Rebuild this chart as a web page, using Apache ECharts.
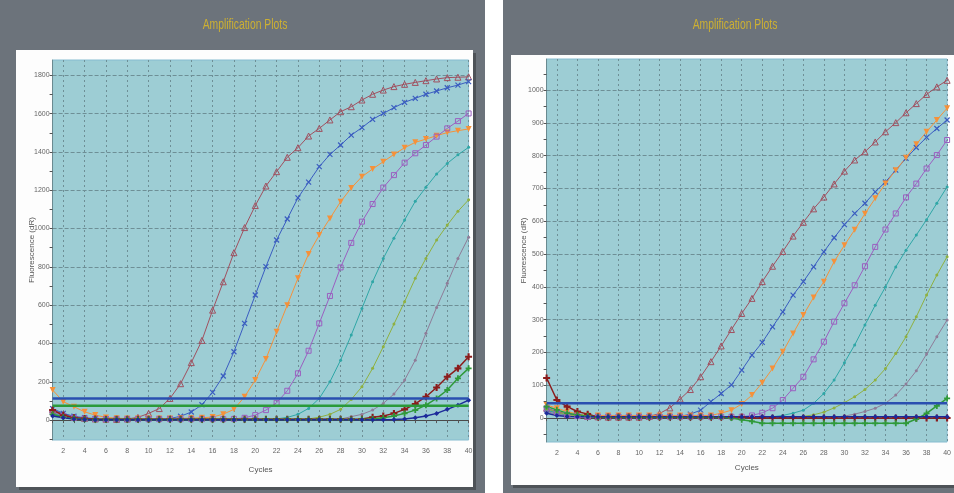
<!DOCTYPE html>
<html><head><meta charset="utf-8">
<script src="https://cdn.jsdelivr.net/npm/echarts@6/dist/echarts.min.js"></script>
<style>html,body{margin:0;padding:0;background:#6c737b}#c{width:954px;height:493px}</style>
</head><body><div id="c"></div>
<script>
// ---- data ----
const cycles = [1,2,3,4,5,6,7,8,9,10,11,12,13,14,15,16,17,18,19,20,21,22,23,24,25,26,27,28,29,30,31,32,33,34,35,36,37,38,39,40];
const xTickLabels = [2,4,6,8,10,12,14,16,18,20,22,24,26,28,30,32,34,36,38,40];
const leftYLabels = [0,200,400,600,800,1000,1200,1400,1600,1800];
const leftYTicks = [-100,0,100,200,300,400,500,600,700,800,900,1000,1100,1200,1300,1400,1500,1600,1700,1800];
const rightYLabels = [0,100,200,300,400,500,600,700,800,900,1000];
const rightYTicks = [-50,0,50,100,150,200,250,300,350,400,450,500,550,600,650,700,750,800,850,900,950,1000,1050];

// left plot
const leftBrownTri = [55,30,16,9,6,5,4,6,14,35,60,113,190,300,416,574,722,874,1005,1120,1222,1297,1372,1422,1483,1523,1567,1610,1636,1671,1701,1723,1741,1753,1763,1772,1781,1788,1790,1792];
const leftBlueX = [60,35,20,12,8,6,5,4,4,4,5,8,20,42,80,145,230,357,505,653,801,940,1050,1160,1242,1323,1387,1436,1488,1527,1570,1601,1631,1659,1680,1701,1718,1735,1749,1767];
const leftOrange = [157,96,70,43,26,14,10,8,8,8,8,8,9,10,12,16,31,56,122,209,319,461,600,740,867,966,1053,1140,1212,1271,1311,1349,1387,1422,1450,1467,1485,1501,1511,1520];
const leftPurple = [40,22,12,8,6,5,5,5,5,5,5,5,5,5,5,5,5,6,12,26,52,90,153,244,362,505,648,797,925,1036,1128,1214,1279,1344,1393,1436,1480,1523,1561,1601];
const leftTeal = [35,20,12,8,6,6,6,6,6,6,6,6,6,6,6,6,6,6,6,6,6,6,14,30,61,113,200,313,444,583,722,844,950,1045,1142,1215,1285,1340,1385,1424];
const leftOlive = [30,18,10,7,6,6,6,6,6,6,6,6,6,6,6,6,6,6,6,6,6,6,6,6,6,15,30,56,108,174,270,383,501,618,740,844,940,1018,1090,1150];
const leftGray = [25,15,9,6,5,5,5,5,5,5,5,5,5,5,5,5,5,5,5,5,5,5,5,5,5,5,5,5,18,30,52,87,136,209,313,453,588,714,844,955];
const leftRed = [52,25,12,8,5,4,4,4,4,4,4,4,4,4,4,4,4,4,4,4,4,4,4,4,4,4,4,4,4,6,15,21,35,56,84,122,170,226,270,331];
const leftGreen = [30,15,8,4,3,3,3,3,3,3,3,3,3,3,3,3,3,3,3,3,3,3,3,3,3,3,3,3,3,4,6,12,21,35,52,78,113,157,218,270];
const leftNavy = [21,12,6,3,2,2,2,2,2,2,2,2,2,2,2,2,2,2,2,2,2,2,2,2,2,2,2,2,2,2,2,2,3,6,12,21,35,56,78,104];
const leftThresholdBlue = 113;
const leftThresholdGreen = 75;

// right plot
const rightBrownTri = [30,20,12,8,5,4,3,3,3,3,5,14,31,58,87,126,172,220,270,319,365,416,463,508,555,597,638,674,714,753,787,812,842,873,901,931,959,987,1010,1030];
const rightBlueX = [25,15,10,7,5,5,5,5,5,5,5,5,5,5,12,24,50,75,101,146,192,231,278,324,375,416,461,507,550,590,624,655,690,720,756,792,825,856,883,909];
const rightOrange = [40,30,20,12,8,8,8,8,8,8,8,8,8,8,8,8,8,15,24,43,70,108,151,202,258,314,368,416,477,527,574,623,670,715,756,794,835,873,909,945];
const rightPurple = [30,18,10,6,4,4,4,4,4,4,4,4,4,4,4,4,4,4,4,4,8,16,30,55,91,126,179,233,294,350,405,463,522,575,624,673,715,761,802,848];
const rightTeal = [25,15,9,6,4,4,4,4,4,4,4,4,4,4,4,4,4,4,4,4,4,4,4,8,15,24,45,75,116,169,223,284,344,400,461,512,558,605,655,705];
const rightOlive = [28,18,10,6,3,3,3,3,3,3,3,3,3,3,3,3,3,3,3,3,3,3,3,3,3,5,10,18,31,47,65,87,116,151,197,248,309,375,436,492];
const rightGray = [20,12,7,3,3,3,3,3,3,3,3,3,3,3,3,3,3,3,3,3,3,3,3,3,3,3,3,3,3,6,12,20,30,45,70,104,144,195,248,299];
const rightRed = [122,55,35,20,12,3,3,3,3,3,3,3,3,3,3,3,3,3,3,3,0,0,0,0,0,0,0,0,0,0,0,0,0,0,0,0,0,0,0,0];
const rightGreen = [35,25,15,10,6,3,3,3,3,3,3,3,3,3,3,3,3,3,0,-5,-10,-16,-16,-16,-16,-16,-16,-16,-16,-16,-16,-16,-16,-16,-16,-16,-3,14,37,60];
const rightNavy = [15,8,5,4,4,4,4,4,4,4,4,4,4,4,4,4,4,4,4,4,4,4,4,4,4,4,4,4,4,4,4,4,4,4,4,4,4,4,4,4];
const rightThresholdBlue = 45;

// ---- styling ----
const FONT = '"Liberation Sans",Arial,sans-serif';
const GRID_C = '#6e8f96';
const C = {brown:'#a0505f', blue:'#3a5cc0', orange:'#f5913a', purple:'#9b5fc0', teal:'#2fa6a6', olive:'#8fb040', gray:'#8e7c98', red:'#8b1c1c', green:'#2f9a3a', navy:'#1c2a9a', thrBlue:'#2a4fb0', thrGreen:'#2a9a3a'};
const SYM_X = 'path://M0,0L10,10M10,0L0,10';
const SYM_PLUS = 'path://M3.5,0H6.5V3.5H10V6.5H6.5V10H3.5V6.5H0V3.5H3.5Z';

function pairs(arr){ return cycles.map((c,i)=>[c, arr[i]]); }

function curve(name, arr, color, symbol, size, opts, gi){
  opts = opts || {};
  const hollow = opts.hollow;
  return {
    name, type:'line', xAxisIndex:gi, yAxisIndex:gi, data:pairs(arr),
    symbol, symbolSize:size, symbolRotate: opts.rotate || 0, showSymbol:true,
    smooth:false, z:2, silent:true, animation:false,
    lineStyle:{color, width: opts.lw || 1},
    itemStyle: hollow ? {color:'rgba(0,0,0,0)', borderColor:color, borderWidth:1}
                      : (opts.strokeOnly ? {color:color, borderColor:color, borderWidth:1.2} : {color, borderWidth:0})
  };
}
function threshold(value, color, gi){
  return {type:'line', xAxisIndex:gi, yAxisIndex:gi, data:[[cycles[0],value],[cycles[cycles.length-1],value]],
    symbol:'none', z:3, silent:true, animation:false, lineStyle:{color, width:2.5}};
}

function xAxisFor(gi){
  return {type:'value', gridIndex:gi, min:cycles[0], max:cycles[cycles.length-1], interval:1,
    name:'Cycles', nameLocation:'middle', nameGap: gi===0?26:22, nameMoveOverlap:false,
    nameTextStyle:{fontFamily:FONT, fontSize:8, color:'#555'},
    axisLine:{show:true, lineStyle:{color:'#4a4a4a', width:1}},
    axisTick:{show:true, length:3, lineStyle:{color:'#555'}},
    axisLabel:{fontFamily:FONT, fontSize:7, color:'#666', margin:8,
      formatter:v=> xTickLabels.indexOf(v)>=0 ? String(v) : ''},
    splitLine:{show:true, lineStyle:{color:['rgba(0,0,0,0)', GRID_C], type:[2,3], width:1}}
  };
}
function yAxisFor(gi, min, max, ticks, labels){
  return {type:'value', gridIndex:gi, min, max,
    name:'Fluorescence (dR)', nameLocation:'middle', nameGap: gi===0?17:19, nameRotate:90, nameMoveOverlap:false,
    nameTextStyle:{fontFamily:FONT, fontSize:8, color:'#555'},
    axisLine:{show:true, lineStyle:{color:'#6a8a90', width:1}},
    axisTick:{show:true, length:3, customValues:ticks, lineStyle:{color:'#555'}},
    axisLabel:{fontFamily:FONT, fontSize:7, color:'#666', margin:3, customValues:labels, formatter:v=>String(v)},
    splitLine:{show:true, lineStyle:{color:['rgba(0,0,0,0)', GRID_C], type:[4,2], width:1}}
  };
}

function titleText(x){
  return {type:'text', x:x, y:25, scaleX:0.74, z:5,
    style:{text:'Amplification Plots', font:'14px '+FONT, fill:'#cdb032', align:'center', verticalAlign:'middle'}};
}

const option = {
  backgroundColor:'#6c737b',
  animation:false,
  graphic:[
    {type:'rect', z:-10, shape:{x:19, y:53, width:457, height:437}, style:{fill:'#4e5358'}},
    {type:'rect', z:-9, shape:{x:16, y:50, width:457, height:437}, style:{fill:'#fdfdfd'}},
    {type:'rect', z:-10, shape:{x:485, y:0, width:18, height:493}, style:{fill:'#ffffff'}},
    {type:'rect', z:-10, shape:{x:513, y:58, width:441, height:430}, style:{fill:'#4e5358'}},
    {type:'rect', z:-9, shape:{x:511, y:55, width:443, height:430}, style:{fill:'#fdfdfd'}},
    titleText(245), titleText(735)
  ],
  grid:[
    {left:52.6, top:60, width:416, height:380, show:true, backgroundColor:'#9dcdd4', borderColor:'#86bcd0', borderWidth:1},
    {left:546.6, top:59, width:405.2, height:383, show:true, backgroundColor:'#9dcdd4', borderColor:'#86bcd0', borderWidth:1}
  ],
  xAxis:[xAxisFor(0), xAxisFor(1)],
  yAxis:[yAxisFor(0, -104, 1880, leftYTicks, leftYLabels), yAxisFor(1, -73, 1095, rightYTicks, rightYLabels)],
  series:[
    curve('A', leftBrownTri, C.brown, 'triangle', 6, {hollow:true}, 0),
    curve('B', leftBlueX, C.blue, SYM_X, 5, {strokeOnly:true}, 0),
    curve('C', leftOrange, C.orange, 'triangle', 6, {rotate:180}, 0),
    curve('D', leftPurple, C.purple, 'rect', 5, {hollow:true}, 0),
    curve('E', leftTeal, C.teal, 'circle', 3, {}, 0),
    curve('F', leftOlive, C.olive, 'circle', 3, {}, 0),
    curve('G', leftGray, C.gray, 'circle', 3, {}, 0),
    curve('H', leftRed, C.red, SYM_PLUS, 7, {lw:1.5}, 0),
    curve('I', leftGreen, C.green, SYM_PLUS, 6, {lw:1.5}, 0),
    curve('J', leftNavy, C.navy, 'diamond', 5, {lw:1.5}, 0),
    threshold(leftThresholdBlue, C.thrBlue, 0),
    threshold(leftThresholdGreen, C.thrGreen, 0),

    curve('A', rightBrownTri, C.brown, 'triangle', 6, {hollow:true}, 1),
    curve('B', rightBlueX, C.blue, SYM_X, 5, {strokeOnly:true}, 1),
    curve('C', rightOrange, C.orange, 'triangle', 6, {rotate:180}, 1),
    curve('D', rightPurple, C.purple, 'rect', 5, {hollow:true}, 1),
    curve('E', rightTeal, C.teal, 'circle', 3, {}, 1),
    curve('F', rightOlive, C.olive, 'circle', 3, {}, 1),
    curve('G', rightGray, C.gray, 'circle', 3, {}, 1),
    curve('H', rightRed, C.red, SYM_PLUS, 7, {lw:1.5}, 1),
    curve('I', rightGreen, C.green, SYM_PLUS, 6, {lw:1.5}, 1),
    curve('J', rightNavy, C.navy, 'diamond', 5, {lw:1.5}, 1),
    threshold(rightThresholdBlue, C.thrBlue, 1)
  ]
};
const chart = echarts.init(document.getElementById('c'), null, {renderer:'canvas'});
chart.setOption(option);
</script></body></html>
